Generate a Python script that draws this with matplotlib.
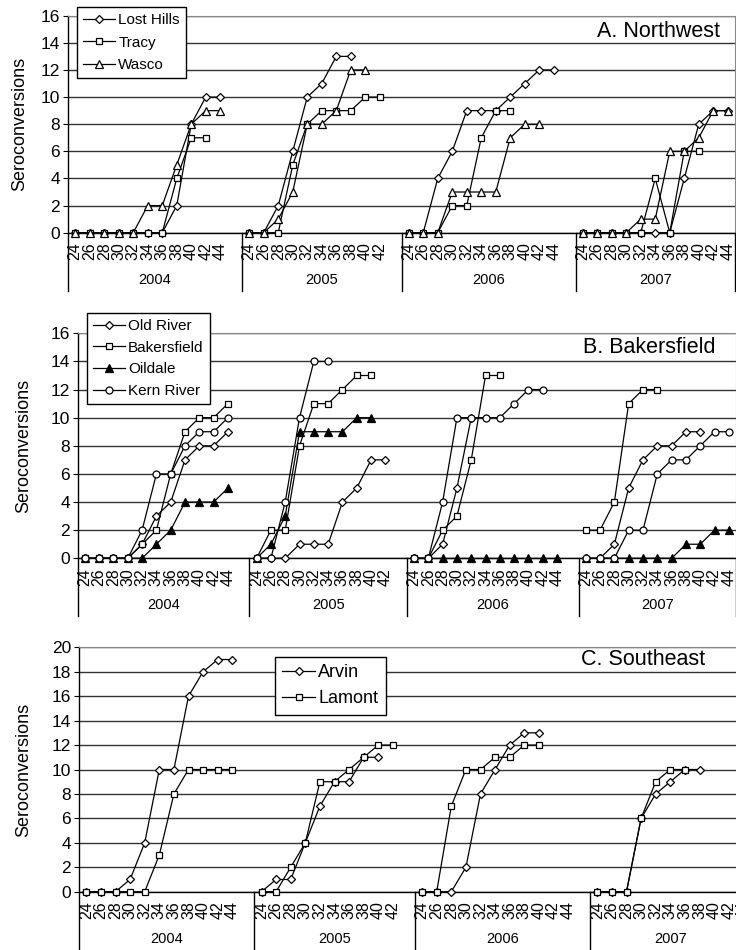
# Seroconversions by week and year: three regional panels
import numpy as np
import matplotlib.pyplot as plt
from matplotlib.transforms import blended_transform_factory

plt.rcParams['font.family'] = ['Liberation Sans', 'DejaVu Sans']

W, H = 736, 950

years = ['2004', '2005', '2006', '2007']
year_slots = [12, 11, 12, 11]   # category slots each year occupies on the axis
week_labels = [list(range(24, 46, 2)), list(range(24, 44, 2)),
               list(range(24, 46, 2)), list(range(24, 46, 2))]

# A. Northwest (values from week 24, every 2 weeks)
lost_hills = [[0, 0, 0, 0, 0, 0, 0, 2, 8, 10, 10],
              [0, 0, 2, 6, 10, 11, 13, 13],
              [0, 0, 4, 6, 9, 9, 9, 10, 11, 12, 12],
              [0, 0, 0, 0, 0, 0, 0, 4, 8, 9, 9]]
tracy = [[0, 0, 0, 0, 0, 0, 0, 4, 7, 7],
         [0, 0, 0, 5, 8, 9, 9, 9, 10, 10],
         [0, 0, 0, 2, 2, 7, 9, 9],
         [0, 0, 0, 0, 0, 4, 0, 6, 6]]
wasco = [[0, 0, 0, 0, 0, 2, 2, 5, 8, 9, 9],
         [0, 0, 1, 3, 8, 8, 9, 12, 12],
         [0, 0, 0, 3, 3, 3, 3, 7, 8, 8],
         [0, 0, 0, 0, 1, 1, 6, 6, 7, 9, 9]]

# B. Bakersfield
old_river = [[0, 0, 0, 0, 1, 3, 4, 7, 8, 8, 9],
             [0, 0, 0, 1, 1, 1, 4, 5, 7, 7],
             [0, 0, 1, 5, 10],
             [0, 0, 1, 5, 7, 8, 8, 9, 9]]
bakersfield = [[0, 0, 0, 0, 1, 2, 6, 9, 10, 10, 11],
               [0, 2, 2, 8, 11, 11, 12, 13, 13],
               [0, 0, 2, 3, 7, 13, 13],
               [2, 2, 4, 11, 12, 12]]
oildale = [[0, 0, 0, 0, 0, 1, 2, 4, 4, 4, 5],
           [0, 1, 3, 9, 9, 9, 9, 10, 10],
           [0, 0, 0, 0, 0, 0, 0, 0, 0, 0, 0],
           [0, 0, 0, 0, 0, 0, 0, 1, 1, 2, 2]]
kern_river = [[0, 0, 0, 0, 2, 6, 6, 8, 9, 9, 10],
              [0, 0, 4, 10, 14, 14],
              [0, 0, 4, 10, 10, 10, 10, 11, 12, 12],
              [0, 0, 0, 2, 2, 6, 7, 7, 8, 9, 9]]

# C. Southeast
arvin = [[0, 0, 0, 1, 4, 10, 10, 16, 18, 19, 19],
         [0, 1, 1, 4, 7, 9, 9, 11, 11],
         [0, 0, 0, 2, 8, 10, 12, 13, 13],
         [0, 0, 0, 6, 8, 9, 10, 10]]
lamont = [[0, 0, 0, 0, 0, 3, 8, 10, 10, 10, 10],
          [0, 0, 2, 4, 9, 9, 10, 11, 12, 12],
          [0, 0, 7, 10, 10, 11, 11, 12, 12],
          [0, 0, 0, 6, 9, 10, 10]]

offsets = np.concatenate([[0], np.cumsum(year_slots)])

fig = plt.figure(figsize=(W / 100, H / 100), dpi=100)


def draw_panel(box, ymax, series, title, title_pos, legend_pos, legend_fs,
               hlen, lspace, ylab_x):
    left, top, right, bottom = box
    ax = fig.add_axes([left / W, 1 - bottom / H, (right - left) / W, (bottom - top) / H])
    ax_h = bottom - top
    ax.set_xlim(0, offsets[-1])
    ax.set_ylim(0, ymax)

    for label, data, marker, ms, fc in series:
        for g, vals in enumerate(data):
            x = offsets[g] + np.arange(len(vals)) + 0.5
            ax.plot(x, vals, color='black', lw=0.9, marker=marker, ms=ms,
                    mfc=fc, mec='black', mew=0.9, clip_on=False,
                    label=label if g == 0 else None, zorder=3)

    # category ticks
    xt, xl = [], []
    for g, wk in enumerate(week_labels):
        for i, w in enumerate(wk):
            xt.append(offsets[g] + i + 0.5)
            xl.append(str(w))
    ax.set_xticks(xt)
    ax.set_xticklabels(xl, rotation=90)
    ax.tick_params(axis='x', length=0, pad=7, labelsize=11.5)
    ax.set_yticks(range(0, ymax + 1, 2))
    ax.tick_params(axis='y', length=3.6, width=0.8, pad=2, labelsize=12.5)

    ax.yaxis.grid(True, color='#333333', lw=1.0)
    ax.set_axisbelow(True)
    for s in ['top', 'right']:
        ax.spines[s].set_color('#888888')
    for s in ['left', 'bottom']:
        ax.spines[s].set_color('black')
        ax.spines[s].set_linewidth(1.0)

    # year groups below the week labels
    trans = blended_transform_factory(ax.transData, ax.transAxes)
    for b in offsets:
        ax.plot([b, b], [0, -58 / ax_h], transform=trans, color='black',
                lw=1.0, clip_on=False)
    for g, yr in enumerate(years):
        ax.text((offsets[g] + offsets[g + 1]) / 2, -47 / ax_h, yr,
                transform=trans, ha='center', va='center', fontsize=10.5)

    ax.set_ylabel('Seroconversions', fontsize=13, va='center')
    ax.yaxis.set_label_coords(ylab_x, 0.5)

    ax.text(title_pos[0], title_pos[1], title, ha='right', va='center', fontsize=15.5)

    leg = ax.legend(loc='upper left', bbox_to_anchor=legend_pos, borderaxespad=0,
                    fontsize=legend_fs, fancybox=False, edgecolor='black',
                    framealpha=1, handlelength=hlen, handletextpad=0.2,
                    labelspacing=lspace, borderpad=0.4, numpoints=1)
    leg.get_frame().set_linewidth(1.0)
    return ax


draw_panel((68, 15.7, 735, 232.7), 16,
           [('Lost Hills', lost_hills, 'D', 4.2, 'white'),
            ('Tracy', tracy, 's', 5, 'white'),
            ('Wasco', wasco, '^', 5.5, 'white')],
           'A. Northwest', (44.97, 14.8), (0.0135, 1.040), 11, 2.1, 0.55, -0.072)

draw_panel((77.7, 333.3, 736, 558.3), 16,
           [('Old River', old_river, 'D', 4.2, 'white'),
            ('Bakersfield', bakersfield, 's', 5, 'white'),
            ('Oildale', oildale, '^', 5.5, 'black'),
            ('Kern River', kern_river, 'o', 5, 'white')],
           'B. Bakersfield', (44.6, 15.0), (0.0141, 1.090), 11, 2.1, 0.5, -0.0816)

draw_panel((79, 647.3, 750.6, 891.7), 20,
           [('Arvin', arvin, 'D', 4.2, 'white'),
            ('Lamont', lamont, 's', 5, 'white')],
           'C. Southeast', (42.9, 19.04), (0.292, 0.960), 13, 1.8, 0.5, -0.0819)

plt.savefig('out.png', dpi=100)
